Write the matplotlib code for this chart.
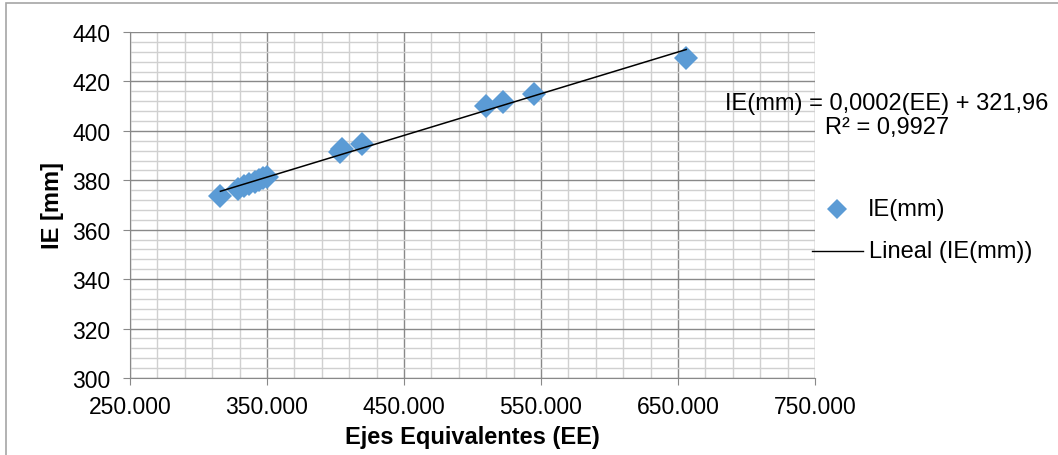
import numpy as np
import matplotlib.pyplot as plt
from matplotlib.ticker import FixedLocator, FuncFormatter
from matplotlib.lines import Line2D
from matplotlib.patches import Rectangle

# data
ee = [316000, 329000, 333000, 337000, 341000, 344000, 347000, 350000,
      403000, 405000, 419000, 510000, 522000, 545000, 656000]
ie = [373.5, 376.5, 377.5, 378.5, 379.5, 380.0, 380.8, 381.5,
      391.5, 392.5, 394.5, 410.0, 411.5, 415.0, 429.5]
eq_text = "IE(mm) = 0,0002(EE) + 321,96\nR² = 0,9927"
legend_labels = ["IE(mm)", "Lineal (IE(mm))"]

plt.rcParams['font.family'] = ['Liberation Sans', 'DejaVu Sans']
W, H = 1058, 456
blue = '#5b9bd5'

fig = plt.figure(figsize=(W/100, H/100), dpi=100)
ax = fig.add_axes([130/W, 1-379/H, 685/W, 346/H])

# outer chart border (cut off at right and bottom)
fig.patches.append(Rectangle((6/W, -0.05), 1.2, 1.05 - 4/H, transform=fig.transFigure,
                             fill=False, edgecolor='#a6a6a6', lw=1.2))

ax.set_xlim(250000, 750000)
ax.set_ylim(300, 440)
ax.xaxis.set_major_locator(FixedLocator(np.arange(250000, 750001, 100000)))
ax.xaxis.set_minor_locator(FixedLocator(np.arange(250000, 750001, 20000)))
ax.yaxis.set_major_locator(FixedLocator(np.arange(300, 441, 20)))
ax.yaxis.set_minor_locator(FixedLocator(np.arange(300, 441, 4)))
ax.xaxis.set_major_formatter(FuncFormatter(lambda v, p: f"{int(v):,}".replace(",", ".")))

ax.grid(which='minor', color='#d0d0d0', lw=1.0)
ax.grid(which='major', color='#898989', lw=1.0)
ax.set_axisbelow(True)
for s in ['top', 'right']:
    ax.spines[s].set_visible(False)
for s in ['left', 'bottom']:
    ax.spines[s].set_color('#898989')
ax.tick_params(which='major', length=5, color='#898989', labelsize=16.5)
ax.tick_params(axis='y', pad=9)
ax.tick_params(axis='x', pad=7)
ax.tick_params(which='minor', length=0)

# points and linear trend
ax.plot(ee, ie, 'D', color=blue, markersize=12.5, markeredgewidth=0, zorder=3)
k, b = np.polyfit(ee, ie, 1)
xs = np.array([min(ee), max(ee)])
ax.plot(xs, k*xs + b, color='black', lw=1.1, zorder=4)

ax.set_xlabel("Ejes Equivalentes (EE)", fontsize=17, fontweight='bold', labelpad=5)
ax.set_ylabel("IE [mm]", fontsize=17, fontweight='bold', labelpad=6)

fig.text(887/W, 1-116/H, eq_text, ha='center', va='center', fontsize=17,
         linespacing=1.15)

# legend drawn by hand
fig.add_artist(Line2D([837/W], [1-210/H], ls='none', marker='D', color=blue,
                      markersize=10.5, markeredgewidth=0, transform=fig.transFigure))
fig.text(868/W, 1-210/H, legend_labels[0], ha='left', va='center', fontsize=17)
fig.add_artist(Line2D([812/W, 863/W], [1-252/H, 1-252/H], color='black', lw=1,
                      transform=fig.transFigure))
fig.text(869/W, 1-252/H, legend_labels[1], ha='left', va='center', fontsize=17)

plt.savefig("out.png")
